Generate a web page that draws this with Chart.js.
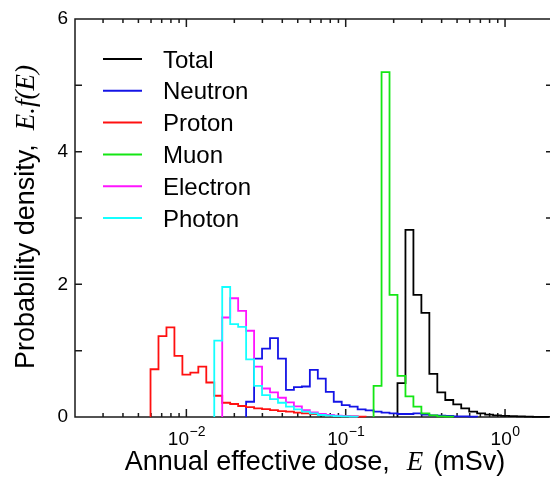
<!DOCTYPE html>
<html><head><meta charset="utf-8">
<script src="https://cdn.jsdelivr.net/npm/chart.js@4.4.0/dist/chart.umd.min.js"></script>
<style>html,body{margin:0;padding:0;overflow:hidden;background:#fff}</style>
</head><body>
<canvas id="c" width="556" height="479"></canvas>
<script>
// Log-uniform histogram bins, 20 per decade; bin k is centred on 10^(k/20) mSv
const binsPerDecade = 20;
const seriesNames  = ['Total', 'Neutron', 'Proton', 'Muon', 'Electron', 'Photon'];
const seriesColors = ['#000000', '#1414e6', '#ff1010', '#14e614', '#ff14ff', '#14ffff'];

const totalFirstBin = -13;
const totalValues = [0.51, 2.82, 1.84, 1.57, 0.65, 0.37, 0.256, 0.19, 0.13, 0.08, 0.055, 0.035, 0.025, 0.018, 0.012, 0.008, 0.005, 0.003, 0.002];
const neutronFirstBin = -32;
const neutronValues = [0.23, 0.88, 1.03, 1.19, 0.88, 0.41, 0.45, 0.46, 0.71, 0.58, 0.38, 0.23, 0.18, 0.155, 0.115, 0.10, 0.08, 0.065, 0.055, 0.045, 0.045, 0.055, 0.035, 0.025, 0.02, 0.015, 0.01, 0.008, 0.005];
const protonFirstBin = -44;
const protonValues = [0.72, 1.22, 1.35, 0.92, 0.64, 0.67, 0.76, 0.52, 0.32, 0.215, 0.196, 0.166, 0.15, 0.13, 0.12, 0.105, 0.09, 0.08, 0.065, 0.055, 0.045, 0.035, 0.025, 0.018, 0.012, 0.008, 0.005];
const muonFirstBin = -16;
const muonValues = [0.47, 5.20, 1.84, 0.62, 0.31, 0.155, 0.055, 0.025, 0.01, 0.005];
const electronFirstBin = -35;
const electronValues = [1.50, 1.79, 1.60, 1.30, 0.76, 0.43, 0.37, 0.29, 0.22, 0.16, 0.105, 0.07, 0.045, 0.03, 0.02, 0.012, 0.008];
const photonFirstBin = -36;
const photonValues = [1.15, 1.96, 1.40, 1.36, 0.87, 0.47, 0.33, 0.27, 0.215, 0.155, 0.115, 0.08, 0.055, 0.03, 0.02, 0.012, 0.008, 0.005];

const xMin = 0.002, xMax = 2;
const yMin = 0, yMax = 6;
const yLabelStep = 2, yTickStep = 1;
const xLabelValues = [0.01, 0.1, 1];
const xLabelExponents = ['\u22122', '\u22121', '0'];

const firstBins = [totalFirstBin, neutronFirstBin, protonFirstBin, muonFirstBin, electronFirstBin, photonFirstBin];
const valueLists = [totalValues, neutronValues, protonValues, muonValues, electronValues, photonValues];

function binEdge(k) { return Math.pow(10, (k - 0.5) / binsPerDecade); }
function stepOutline(first, vals) {
  const pts = [{x: binEdge(first), y: 0}];
  vals.forEach((v, i) => {
    pts.push({x: binEdge(first + i), y: v});
    pts.push({x: binEdge(first + i + 1), y: v});
  });
  pts.push({x: binEdge(first + vals.length), y: 0});
  return pts;
}

const SANS = '"Liberation Sans", Arial, Helvetica, sans-serif';
const SERIF = '"Liberation Serif", "Times New Roman", serif';
const TITLE = 27;

const decor = {
  id: 'decor',
  beforeDatasetsDraw(chart) {
    const {ctx, chartArea: a, scales: {x, y}} = chart;
    ctx.save();
    ctx.strokeStyle = '#1a1a1a';
    ctx.lineWidth = 1.5;
    ctx.strokeRect(a.left, a.top, a.right - a.left, a.bottom - a.top);
    ctx.beginPath();
    for (let d = -3; d <= 0; d++) {
      for (let m = 1; m <= 9; m++) {
        const v = m * Math.pow(10, d);
        if (v <= xMin * 1.0001 || v >= xMax * 0.9999) continue;
        const px = x.getPixelForValue(v);
        const len = m === 1 ? 8 : 4;
        ctx.moveTo(px, a.bottom); ctx.lineTo(px, a.bottom - len);
        ctx.moveTo(px, a.top); ctx.lineTo(px, a.top + len);
      }
    }
    for (let v = yMin + yTickStep; v < yMax; v += yTickStep) {
      const py = y.getPixelForValue(v);
      ctx.moveTo(a.left, py); ctx.lineTo(a.left + 7, py);
      ctx.moveTo(a.right, py); ctx.lineTo(a.right - 7, py);
    }
    ctx.stroke();
    ctx.restore();
  },
  afterDraw(chart) {
    const {ctx, scales: {x}} = chart;
    ctx.save();
    ctx.fillStyle = '#000';
    ctx.textBaseline = 'alphabetic';
    ctx.textAlign = 'left';
    // x tick labels 10^n
    xLabelValues.forEach((v, i) => {
      const px = x.getPixelForValue(v);
      ctx.font = '19px ' + SANS;
      const w1 = ctx.measureText('10').width;
      ctx.font = '14px ' + SANS;
      const w2 = ctx.measureText(xLabelExponents[i]).width;
      const left = px - (w1 + w2) / 2;
      ctx.font = '19px ' + SANS;
      ctx.fillText('10', left, 445);
      ctx.font = '14px ' + SANS;
      ctx.fillText(xLabelExponents[i], left + w1 + 0.5, 436);
    });
    // x title
    const p1 = 'Annual effective dose,', p2 = 'E', p3 = '(mSv)';
    ctx.font = TITLE + 'px ' + SANS;
    const w1 = ctx.measureText(p1).width, w3 = ctx.measureText(p3).width;
    ctx.font = 'italic ' + TITLE + 'px ' + SERIF;
    const w2 = ctx.measureText(p2).width;
    const g1 = 17, g2 = 10;
    let sx = 315 - (w1 + g1 + w2 + g2 + w3) / 2;
    ctx.font = TITLE + 'px ' + SANS; ctx.fillText(p1, sx, 470); sx += w1 + g1;
    ctx.font = 'italic ' + TITLE + 'px ' + SERIF; ctx.fillText(p2, sx, 470); sx += w2 + g2;
    ctx.font = TITLE + 'px ' + SANS; ctx.fillText(p3, sx, 470);
    // y title
    ctx.save();
    ctx.translate(34, 217);
    ctx.rotate(-Math.PI / 2);
    const q1 = 'Probability density,', q2 = 'E.f(E)';
    ctx.font = TITLE + 'px ' + SANS;
    const v1 = ctx.measureText(q1).width;
    ctx.font = 'italic ' + TITLE + 'px ' + SERIF;
    const v2 = ctx.measureText(q2).width;
    const gy = 14;
    let sy = -(v1 + gy + v2) / 2;
    ctx.font = TITLE + 'px ' + SANS; ctx.fillText(q1, sy, 0); sy += v1 + gy;
    ctx.font = 'italic ' + TITLE + 'px ' + SERIF; ctx.fillText(q2, sy, 0);
    ctx.restore();
    // legend
    chart.data.datasets.forEach((ds, i) => {
      const ly = 59 + i * 31.8;
      ctx.strokeStyle = ds.borderColor;
      ctx.lineWidth = 2;
      ctx.beginPath(); ctx.moveTo(103, ly); ctx.lineTo(142, ly); ctx.stroke();
      ctx.font = '24px ' + SANS;
      ctx.fillStyle = '#000';
      ctx.fillText(ds.label, 163, ly + 8.6);
    });
    ctx.restore();
  }
};

const datasets = seriesNames.map((name, i) => ({
  label: name,
  data: stepOutline(firstBins[i], valueLists[i]),
  borderColor: seriesColors[i],
  borderWidth: 1.8,
  pointRadius: 0,
  tension: 0,
  fill: false,
  clip: false,
  order: seriesNames.length - i
}));

new Chart(document.getElementById('c'), {
  type: 'line',
  data: {datasets},
  options: {
    responsive: false,
    animation: false,
    layout: {padding: {left: 0, top: 19, right: 3, bottom: 0}},
    plugins: {legend: {display: false}, tooltip: {enabled: false}},
    scales: {
      x: {
        type: 'logarithmic', min: xMin, max: xMax,
        grid: {display: false, drawTicks: false},
        border: {display: false},
        ticks: {display: false},
        afterFit(s) { s.height = 62; }
      },
      y: {
        type: 'linear', min: yMin, max: yMax,
        grid: {display: false, drawTicks: false},
        border: {display: false},
        ticks: {stepSize: yLabelStep, padding: 7, color: '#000', font: {size: 19, family: SANS}},
        afterFit(s) { s.width = 75; }
      }
    }
  },
  plugins: [decor]
});
</script>
</body></html>
